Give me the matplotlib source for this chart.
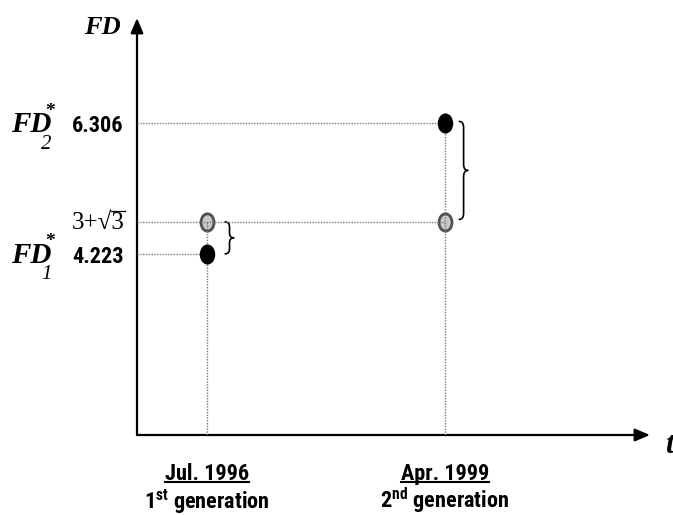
import numpy as np
import matplotlib
matplotlib.use('Agg')
import matplotlib.pyplot as plt
from matplotlib.path import Path
from matplotlib.patches import PathPatch
from matplotlib.lines import Line2D
from matplotlib.transforms import Affine2D, IdentityTransform

# data
dates = [1996.5, 1999.25]                 # Jul. 1996, Apr. 1999
date_labels = ['Jul. 1996', 'Apr. 1999']
gen_labels = [r'1$^{\mathregular{st}}$ generation', r'2$^{\mathregular{nd}}$ generation']
fd_opt = [4.223, 6.306]                   # FD*_1, FD*_2 (black points)
fd_opt_labels = ['4.223', '6.306']
fd_sub = ['1', '2']
fd_bound = 3 + np.sqrt(3)                 # grey points, same at both dates

serif = ['Liberation Serif', 'DejaVu Serif']
narrow = ['Roboto Condensed', 'Roboto', 'Liberation Sans', 'DejaVu Sans']

fig = plt.figure(figsize=(6.73, 5.15), dpi=100)
ax = fig.add_axes([137 / 673, 80 / 515, 513 / 673, 417 / 515])
ax.set_xlim(1995.691, 2001.619)
ax.set_ylim(1.331, 7.987)
ax.axis('off')
x0, y0 = ax.get_xlim()[0], ax.get_ylim()[0]

# axes with arrow heads
arr = dict(arrowstyle='-|>,head_length=0.9,head_width=0.38', lw=1.6, color='k',
           shrinkA=0, shrinkB=0)
ax.annotate('', xy=(0, 1), xytext=(0, 0), xycoords='axes fraction', arrowprops=arr)
ax.annotate('', xy=(1, 0), xytext=(0, 0), xycoords='axes fraction', arrowprops=arr)

# dotted guide lines
dot = dict(colors='#7a7a7a', linestyles=(0, (1, 1)), linewidth=1.0, zorder=3)
ax.hlines(fd_opt[1], x0, dates[1], **dot)
ax.hlines(fd_bound, x0, dates[1], **dot)
ax.hlines(fd_opt[0], x0, dates[0], **dot)
ax.vlines(dates[0], y0, fd_bound, **dot)
ax.vlines(dates[1], y0, fd_opt[1], **dot)

# elliptical markers
ell = Path.unit_circle().transformed(Affine2D().scale(0.75, 1.0))
ax.plot(dates, [fd_bound] * 2, ls='none', marker=ell, ms=12.5, mfc='#c8c8c8',
        mec='#505050', mew=2, zorder=2)
ax.plot(dates, fd_opt, ls='none', marker=ell, ms=13.5, color='k', zorder=4)


def brace(x, ylo, yhi, w, r):
    ym = (ylo + yhi) / 2
    xm = x + w / 2
    verts = [(x, yhi), (xm, yhi), (xm, yhi - r), (xm, ym + r), (xm, ym), (x + w, ym),
             (xm, ym), (xm, ym - r), (xm, ylo + r), (xm, ylo), (x, ylo)]
    codes = [Path.MOVETO, Path.CURVE3, Path.CURVE3, Path.LINETO, Path.CURVE3, Path.CURVE3,
             Path.CURVE3, Path.CURVE3, Path.LINETO, Path.CURVE3, Path.CURVE3]
    ax.add_patch(PathPatch(Path(verts, codes), fill=False, lw=1.2, ec='k',
                           capstyle='round', joinstyle='round'))


brace(dates[0] + 0.21, fd_opt[0], fd_bound, 0.1, 0.08)
brace(dates[1] + 0.165, fd_bound + 0.04, fd_opt[1] + 0.03, 0.1, 0.1)

# axis titles
fig.text(121 / 673, 1 - 27 / 515, 'FD', ha='right', va='center', fontsize=19,
         style='italic', weight='bold', family=serif)
fig.text(665 / 673, 1 - 453 / 515, 't', ha='left', va='baseline', fontsize=22,
         style='italic', weight='bold', family=serif)

# y-level labels
for i in range(2):
    y = fd_opt[i]
    ax.annotate('FD', xy=(11, y), xycoords=('figure pixels', 'data'), xytext=(0, -9),
                textcoords='offset pixels', ha='left', va='baseline', fontsize=21,
                style='italic', weight='bold', family=serif)
    ax.annotate('*', xy=(50, y), xycoords=('figure pixels', 'data'), xytext=(0, 12),
                textcoords='offset pixels', ha='center', va='center', fontsize=14,
                weight='bold', family=serif)
    ax.annotate(fd_sub[i], xy=(46, y), xycoords=('figure pixels', 'data'), xytext=(0, -21),
                textcoords='offset pixels', ha='center', va='center', fontsize=15,
                style='italic', family=serif)
    ax.annotate(fd_opt_labels[i], xy=(72, y), xycoords=('figure pixels', 'data'),
                xytext=(0, -3), textcoords='offset pixels', ha='left', va='center',
                fontsize=16, weight='bold', family=narrow)

sq_props = dict(fontsize=18, family=serif)
sq = ax.annotate('3+\u221a3', xy=(72, fd_bound), xycoords=('figure pixels', 'data'),
                 xytext=(0, -7), textcoords='offset pixels', ha='left', va='baseline',
                 **sq_props)

# date / generation labels
dtexts = []
for i in range(2):
    t = ax.annotate(date_labels[i], xy=(dates[i], 35), xycoords=('data', 'figure pixels'),
                    ha='center', va='baseline', fontsize=16, weight='bold', family=narrow)
    dtexts.append(t)
    ax.annotate(gen_labels[i], xy=(dates[i], 7), xycoords=('data', 'figure pixels'),
                ha='center', va='baseline', fontsize=16, weight='bold', family=narrow)

fig.canvas.draw()
renderer = fig.canvas.get_renderer()
for t in dtexts:
    bb = t.get_window_extent()
    fig.add_artist(Line2D([bb.x0, bb.x1], [33, 33], color='k', lw=1.5,
                          transform=IdentityTransform()))

# overline of the square root
tmp = fig.text(0, 0, '3+\u221a', **sq_props)
w_pre = tmp.get_window_extent(renderer).width
tmp.remove()
bb = sq.get_window_extent(renderer)
base_y = ax.transData.transform((0, fd_bound))[1] - 7
bar_y = base_y + 18 * 100 / 72 * 0.70
fig.add_artist(Line2D([bb.x0 + w_pre - 1, bb.x1], [bar_y, bar_y], color='k', lw=0.9,
                      transform=IdentityTransform()))

fig.savefig('out.png', dpi=100)
